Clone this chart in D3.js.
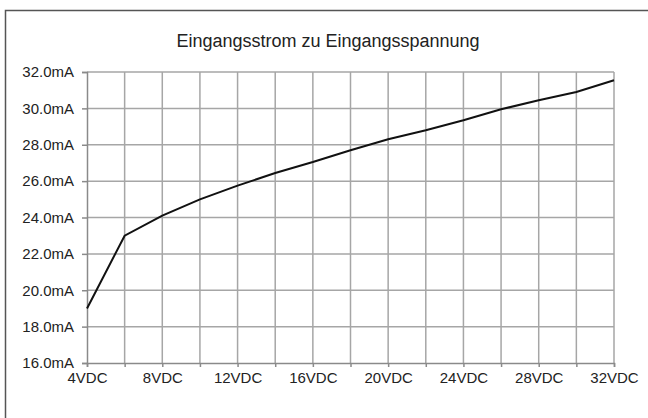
<!DOCTYPE html>
<html>
<head>
<meta charset="utf-8">
<script src="https://cdn.jsdelivr.net/npm/d3@7"></script>
<style>
  html, body { margin: 0; padding: 0; background: #fff; }
  svg { display: block; font-family: "Liberation Sans", Arial, sans-serif; }
</style>
</head>
<body>
<svg id="chart"></svg>
<script>
const title = "Eingangsstrom zu Eingangsspannung";
const voltages = [4, 6, 8, 10, 12, 14, 16, 18, 20, 22, 24, 26, 28, 30, 32];
const currents = [19.0, 23.0, 24.1, 25.0, 25.75, 26.45, 27.05, 27.7, 28.3, 28.8, 29.35, 29.95, 30.45, 30.9, 31.55];
const xLabelTicks = [4, 8, 12, 16, 20, 24, 28, 32];
const yTicks = [16, 18, 20, 22, 24, 26, 28, 30, 32];

const width = 648, height = 418;
const margin = { top: 72, right: 34, bottom: 55, left: 87 };

const svg = d3.select("#chart").attr("width", width).attr("height", height);

// outer frame (runs off the right and bottom edges)
svg.append("rect")
  .attr("x", 5.5).attr("y", 10.5)
  .attr("width", 660).attr("height", 430)
  .attr("fill", "none").attr("stroke", "#555").attr("stroke-width", 1.5);

svg.append("text")
  .attr("x", 328).attr("y", 47)
  .attr("text-anchor", "middle")
  .attr("font-size", 18).attr("fill", "#222")
  .text(title);

const x = d3.scaleLinear().domain([4, 32]).range([margin.left, width - margin.right]);
const y = d3.scaleLinear().domain([16, 32]).range([height - margin.bottom, margin.top]);

const g = svg.append("g");

// grid
g.selectAll(".vgrid").data(voltages.slice(1)).enter().append("line")
  .attr("x1", d => x(d)).attr("x2", d => x(d))
  .attr("y1", y(16)).attr("y2", y(32))
  .attr("stroke", "#a6a6a6").attr("stroke-width", 1.5);
g.selectAll(".hgrid").data(yTicks.slice(1)).enter().append("line")
  .attr("x1", x(4)).attr("x2", x(32))
  .attr("y1", d => y(d)).attr("y2", d => y(d))
  .attr("stroke", "#a6a6a6").attr("stroke-width", 1.5);

// axes
const xAxis = d3.axisBottom(x).tickValues(voltages).tickSize(4)
  .tickFormat(d => xLabelTicks.includes(d) ? d + "VDC" : "");
const yAxis = d3.axisLeft(y).tickValues(yTicks).tickSize(5)
  .tickFormat(d => d.toFixed(1) + "mA");

const gx = svg.append("g").attr("transform", `translate(0,${y(16)})`).call(xAxis);
const gy = svg.append("g").attr("transform", `translate(${x(4)},0)`).call(yAxis);

[gx, gy].forEach(a => {
  a.select(".domain").attr("stroke", "#8a8a8a").attr("stroke-width", 1.5);
  a.selectAll(".tick line").attr("stroke", "#8a8a8a").attr("stroke-width", 1.5);
  a.selectAll("text").attr("font-size", 15).attr("fill", "#222")
    .attr("font-family", "Liberation Sans, Arial, sans-serif");
});
gx.selectAll("text").attr("dy", "0.95em").attr("y", 6);
gy.selectAll("text").attr("x", -13);

// line
const line = d3.line().x((d, i) => x(voltages[i])).y(d => y(d));
svg.append("path")
  .datum(currents)
  .attr("d", line)
  .attr("fill", "none")
  .attr("stroke", "#111")
  .attr("stroke-width", 2);
</script>
</body>
</html>
